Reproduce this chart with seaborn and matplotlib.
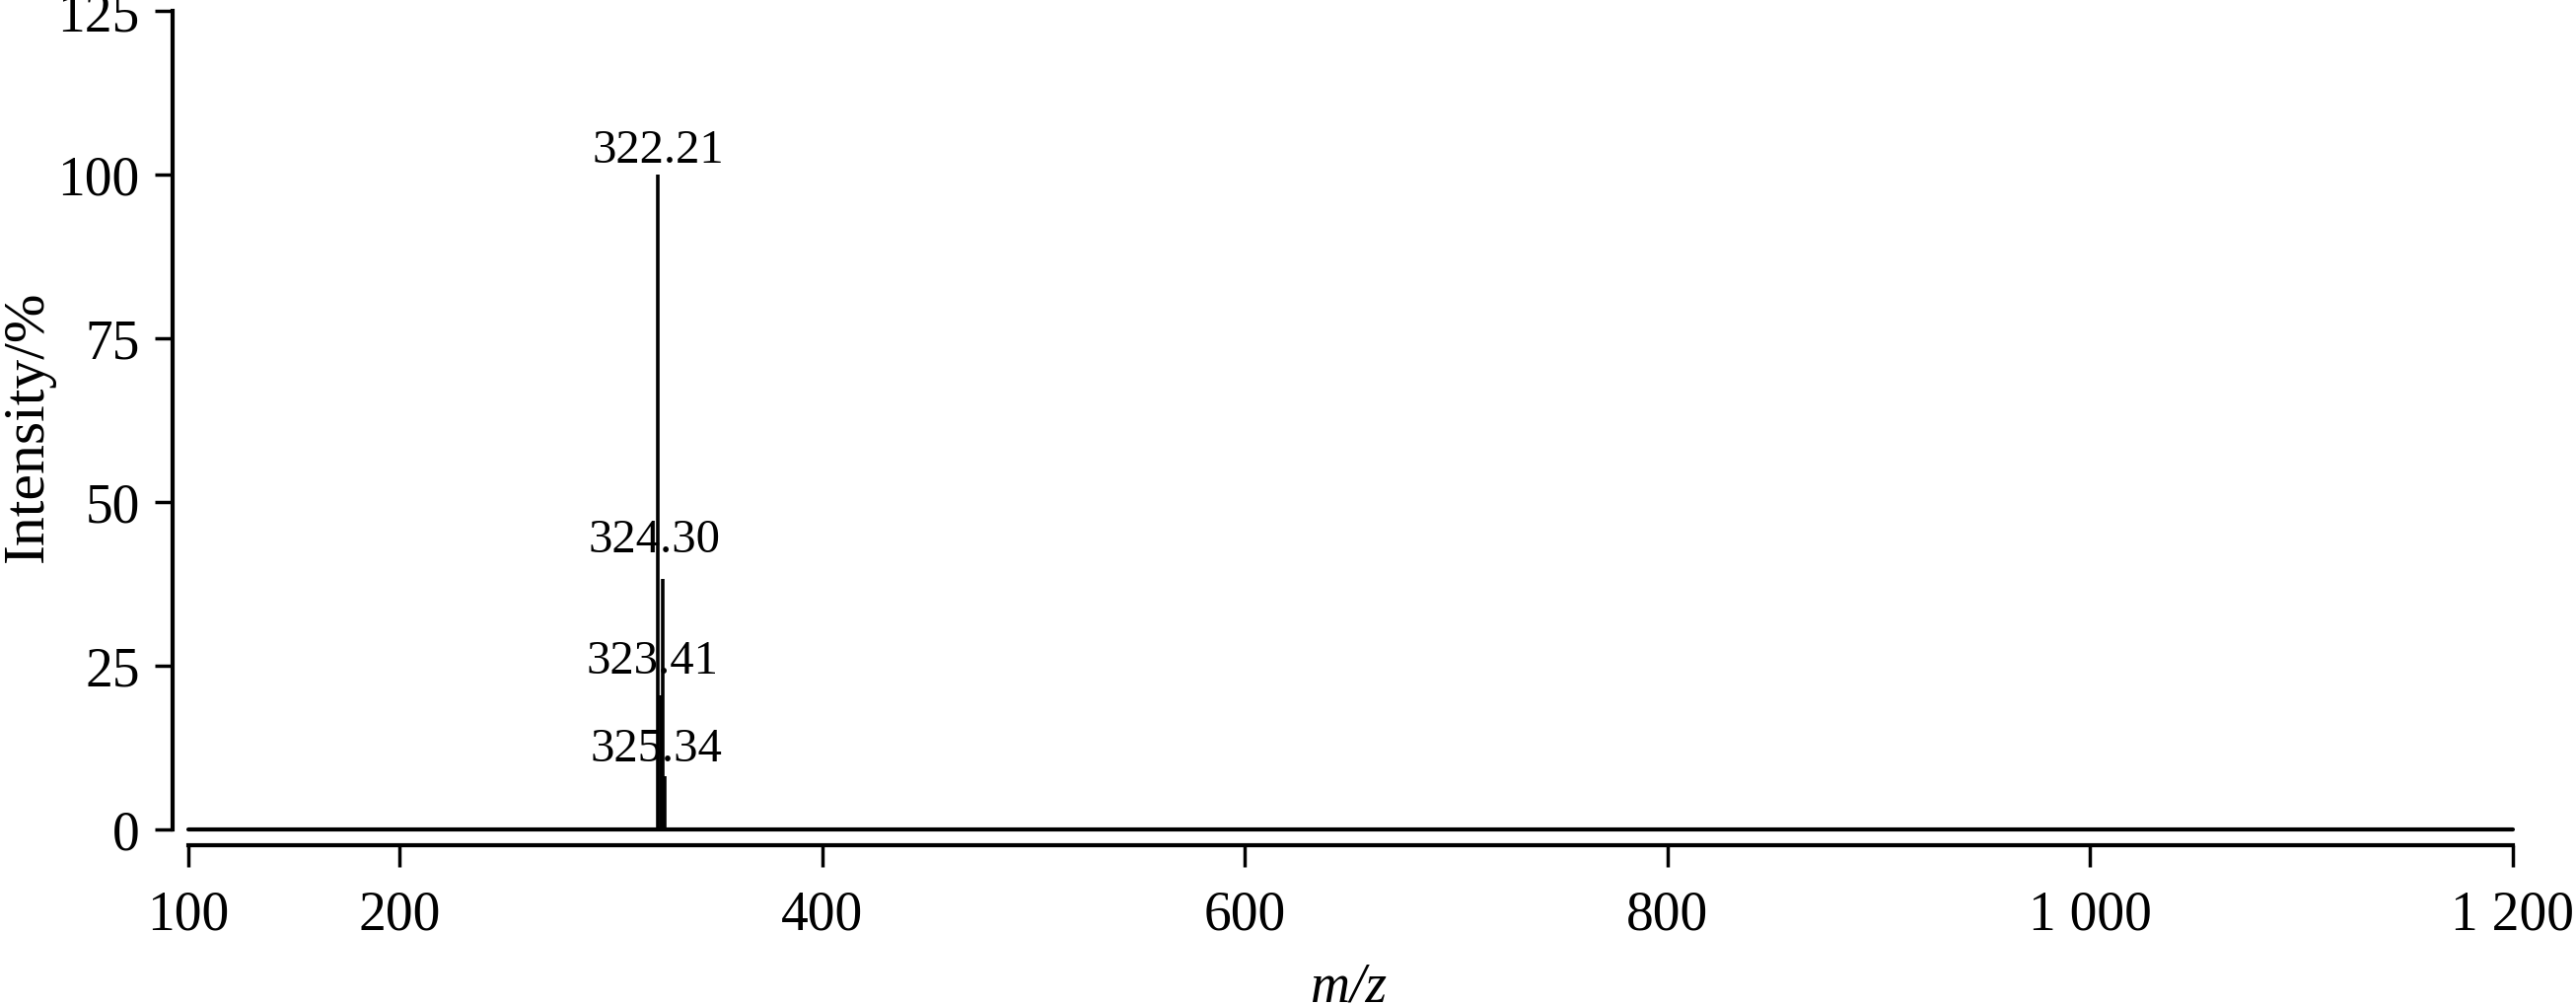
import matplotlib
matplotlib.use("Agg")
import matplotlib.pyplot as plt
import seaborn as sns
import pandas as pd

# Picos del espectro (m/z, intensidad relativa %)
mz_values = [322.21, 323.41, 324.30, 325.34]
intensities = [100.0, 20.5, 38.3, 8.1]
peak_labels = ["322.21", "323.41", "324.30", "325.34"]
label_heights = [102.0, 23.9, 42.5, 10.5]

# Línea base del espectro
baseline_mz = [100, 1200]
baseline_int = [0, 0]

x_ticks = [100, 200, 400, 600, 800, 1000, 1200]
x_tick_labels = ["100", "200", "400", "600", "800", "1 000", "1 200"]
y_ticks = [0, 25, 50, 75, 100, 125]

sns.set_style("ticks", {
    "axes.edgecolor": "black",
    "xtick.color": "black",
    "ytick.color": "black",
    "text.color": "black",
    "axes.labelcolor": "black",
})
plt.rcParams["font.family"] = ["Liberation Serif", "DejaVu Serif"]

W, H = 2612, 1020
fig = plt.figure(figsize=(W / 100, H / 100), dpi=100)
ax = fig.add_axes([175 / W, 1 - 842 / H, (2548 - 175) / W, (842 - 12) / H])

# Línea base
base_df = pd.DataFrame({"mz": baseline_mz, "int": baseline_int})
sns.lineplot(data=base_df, x="mz", y="int", color="black", linewidth=3.0,
             ax=ax, clip_on=False)

# Picos
peaks = pd.DataFrame({"mz": mz_values, "int": intensities, "label": peak_labels})
ax.vlines(peaks["mz"], 0, peaks["int"], color="black", linewidth=2.6, clip_on=False)

for i, row in peaks.iterrows():
    x_txt = row["mz"] if row["int"] >= 99 else row["mz"] - 4
    ax.text(x_txt, label_heights[i], row["label"], ha="center", va="baseline",
            fontsize=35, color="black")

ax.set_xlim(92.5, 1200)
ax.set_ylim(0, 125)
ax.set_xticks(x_ticks)
ax.set_xticklabels(x_tick_labels)
ax.set_yticks(y_ticks)

for side in ["top", "right"]:
    ax.spines[side].set_visible(False)
ax.spines["left"].set_linewidth(3.0)
ax.spines["bottom"].set_linewidth(3.0)
ax.spines["bottom"].set_position(("outward", 11.5))
ax.spines["bottom"].set_bounds(100, 1200)

ax.tick_params(axis="x", length=16, width=2.5, pad=16, labelsize=40, direction="out")
ax.tick_params(axis="y", length=13, width=2.5, pad=11, labelsize=40, direction="out")

ax.set_xlabel("m/z", fontsize=40, fontstyle="italic")
ax.xaxis.set_label_coords(1368 / W, 4 / H, transform=fig.transFigure)
ax.xaxis.label.set_verticalalignment("baseline")

ax.set_ylabel("Intensity/%", fontsize=43)
ax.yaxis.set_label_coords(29 / W, 1 - 432 / H, transform=fig.transFigure)
ax.yaxis.label.set_verticalalignment("center")

fig.savefig("out.png", dpi=100)
plt.close(fig)
